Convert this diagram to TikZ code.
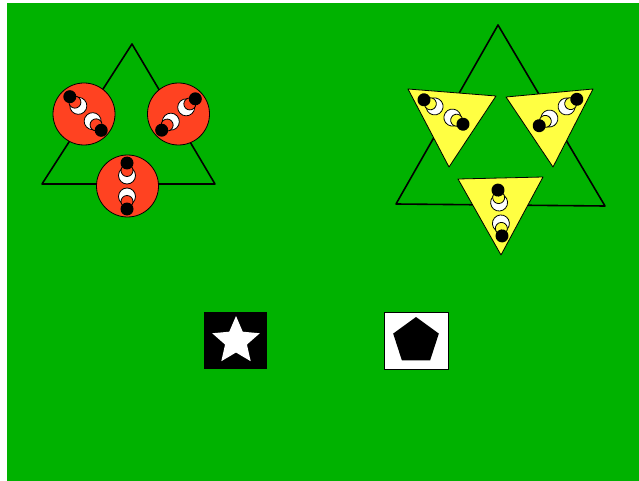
\documentclass[tikz,border=0pt]{standalone}
\definecolor{grass}{RGB}{0,178,0}
\definecolor{tomato}{RGB}{255,66,33}
\definecolor{lemon}{RGB}{255,255,66}
\begin{document}
\begin{tikzpicture}[x=1pt,y=-1pt,line cap=round,line join=round,
  outline/.style={draw=black,line width=1.6pt},
  patch/.style={draw=black,line width=0.8pt},
  glyph/.pic={
    \filldraw[fill=white,line width=0.8pt] (-10.5,0) circle (8.5);
    \filldraw[fill=white,line width=0.8pt] (10.5,0) circle (8.5);
    \filldraw[fill=#1,line width=0.8pt] (-15.5,0) circle (6);
    \filldraw[fill=#1,line width=0.8pt] (15.5,0) circle (6);
    \fill (-23,0) circle (6.5);
    \fill (23,0) circle (6.5);
  }]
  \useasboundingbox (0,0) rectangle (639,481);
  \fill[grass] (7,3) rectangle (639,481);
  \draw[outline] (132,44) -- (215,184) -- (42,184) -- cycle;
  \filldraw[patch,fill=tomato] (84,114) circle (31);
  \filldraw[patch,fill=tomato] (178.5,114) circle (31);
  \filldraw[patch,fill=tomato] (127.5,186) circle (31);
  \pic[rotate=-47] at (85.5,113.5) {glyph=tomato};
  \pic[rotate=43] at (178.5,114.5) {glyph=tomato};
  \pic[rotate=90] at (127,186) {glyph=tomato};
  \draw[outline] (498,25) -- (605,206) -- (396,204) -- cycle;
  \filldraw[patch,fill=lemon] (408,89) -- (496,96) -- (449,167) -- cycle;
  \filldraw[patch,fill=lemon] (506,97) -- (593,89) -- (553,167) -- cycle;
  \filldraw[patch,fill=lemon] (458,179) -- (543,177) -- (501,255) -- cycle;
  \pic[rotate=-32] at (443.5,112) {glyph=lemon};
  \pic[rotate=35] at (558,112.5) {glyph=lemon};
  \pic[rotate=-85] at (500,213) {glyph=lemon};
  \fill[black] (204,312) rectangle (267,369);
  \fill[white,shift={(236,341)}] (-90:25) -- (-54:11.5) -- (-18:25) -- (18:11.5) -- (54:25)
    -- (90:11.5) -- (126:25) -- (162:11.5) -- (198:25) -- (234:11.5) -- cycle;
  \filldraw[fill=white,draw=black,line width=0.8pt] (384,312) rectangle (448,369);
  \fill[black,shift={(416,341)}] (-90:24) -- (-18:24) -- (54:24) -- (126:24) -- (198:24) -- cycle;
\end{tikzpicture}
\end{document}
